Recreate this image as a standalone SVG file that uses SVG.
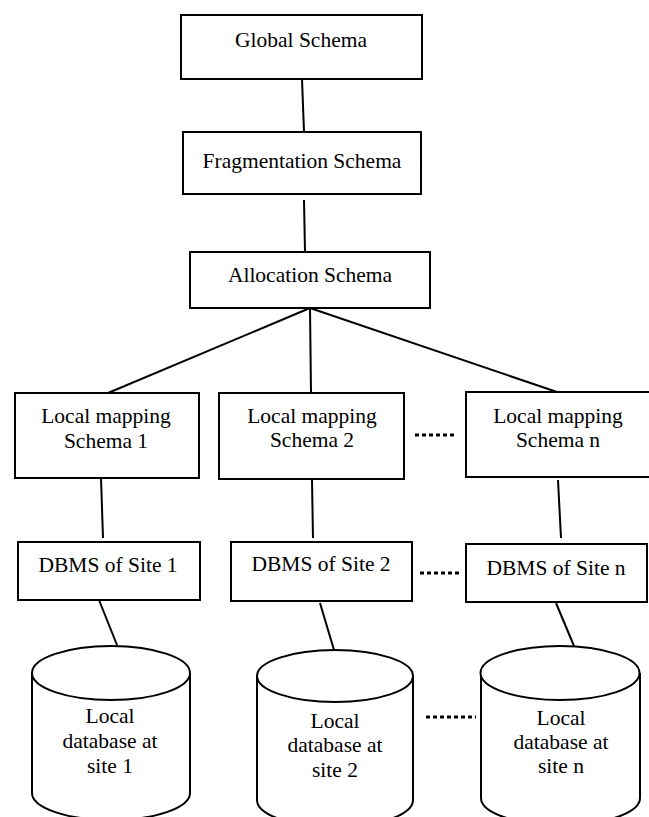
<svg xmlns="http://www.w3.org/2000/svg" width="649" height="817" viewBox="0 0 649 817">
<style>
.box{fill:#fff;stroke:#000;stroke-width:2}
.cyl{fill:#fff;stroke:#000;stroke-width:2}
.ln{stroke:#000;stroke-width:2;fill:none}
.dot{stroke:#000;stroke-width:3;stroke-dasharray:4 3;fill:none}
.t{font-family:'Liberation Serif','DejaVu Serif','Times New Roman',serif;font-size:21.5px;fill:#000;text-anchor:middle}
</style>
<rect width="649" height="817" fill="#fff"/>
<g id="connectors">
<line class="ln" x1="302" y1="79" x2="304" y2="132"/>
<line class="ln" x1="304" y1="200" x2="305" y2="252"/>
<line class="ln" x1="310" y1="308" x2="108" y2="393"/>
<line class="ln" x1="310" y1="308" x2="311" y2="393"/>
<line class="ln" x1="310" y1="308" x2="557" y2="392"/>
<line class="ln" x1="101" y1="478" x2="103" y2="538"/>
<line class="ln" x1="312" y1="479" x2="313" y2="538"/>
<line class="ln" x1="558" y1="480" x2="561" y2="538"/>
<line class="ln" x1="99" y1="600" x2="117" y2="645"/>
<line class="ln" x1="320" y1="603" x2="334" y2="650"/>
<line class="ln" x1="556" y1="603" x2="574" y2="646"/>
<line class="dot" x1="415" y1="435" x2="456" y2="435"/>
<line class="dot" x1="420" y1="573" x2="462" y2="573"/>
<line class="dot" x1="426" y1="717" x2="476" y2="717"/>
</g>
<g id="global">
<rect class="box" x="181" y="15" width="241" height="64"/>
<text class="t" x="301" y="47">Global Schema</text>
</g>
<g id="fragmentation">
<rect class="box" x="183" y="132" width="238" height="62"/>
<text class="t" x="302" y="168">Fragmentation Schema</text>
</g>
<g id="allocation">
<rect class="box" x="190" y="252" width="240" height="56"/>
<text class="t" x="310" y="282">Allocation Schema</text>
</g>
<g id="lms1">
<rect class="box" x="15" y="393" width="184" height="85"/>
<text class="t" x="106" y="423">Local mapping</text>
<text class="t" x="106" y="448">Schema 1</text>
</g>
<g id="lms2">
<rect class="box" x="219" y="393" width="185" height="86"/>
<text class="t" x="312" y="423">Local mapping</text>
<text class="t" x="312" y="447">Schema 2</text>
</g>
<g id="lmsn">
<rect class="box" x="466" y="392" width="186" height="85"/>
<text class="t" x="558" y="423">Local mapping</text>
<text class="t" x="558" y="447">Schema n</text>
</g>
<g id="dbms1">
<rect class="box" x="18" y="542" width="182" height="58"/>
<text class="t" x="108" y="572">DBMS of Site 1</text>
</g>
<g id="dbms2">
<rect class="box" x="231" y="542" width="181" height="59"/>
<text class="t" x="321" y="571">DBMS of Site 2</text>
</g>
<g id="dbmsn">
<rect class="box" x="466" y="544" width="181" height="58"/>
<text class="t" x="556" y="575">DBMS of Site n</text>
</g>
<g id="db1">
<path class="cyl" d="M32,673 V793 A79 27 0 0 0 190,793 V673"/>
<ellipse class="cyl" cx="111" cy="673" rx="79" ry="27"/>
<text class="t" x="110" y="723">Local</text>
<text class="t" x="110" y="748">database at</text>
<text class="t" x="110" y="773">site 1</text>
</g>
<g id="db2">
<path class="cyl" d="M257,676 V800 A78 27 0 0 0 413,800 V676"/>
<ellipse class="cyl" cx="335" cy="676" rx="78" ry="26"/>
<text class="t" x="335" y="728">Local</text>
<text class="t" x="335" y="752">database at</text>
<text class="t" x="335" y="777">site 2</text>
</g>
<g id="dbn">
<path class="cyl" d="M481,673 V798 A79 27 0 0 0 640,798 V673"/>
<ellipse class="cyl" cx="560" cy="673" rx="79.5" ry="27"/>
<text class="t" x="561" y="725">Local</text>
<text class="t" x="561" y="749">database at</text>
<text class="t" x="561" y="773">site n</text>
</g>
</svg>
